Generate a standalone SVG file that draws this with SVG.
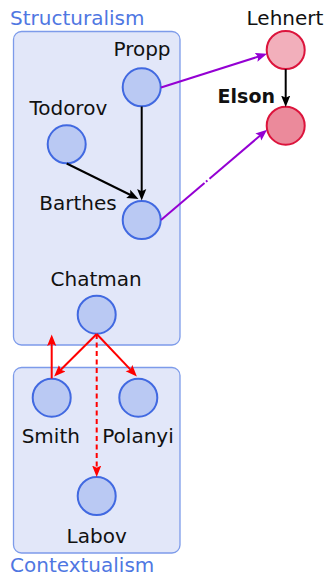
<svg xmlns="http://www.w3.org/2000/svg" width="326" height="578" viewBox="0 0 326 578">
  <style>
    .group { fill: #E2E7F9; stroke: #7D9BEA; stroke-width: 1.3; }
    .title { font-family: "DejaVu Sans", "Liberation Sans", sans-serif; font-size: 20px; fill: #4F77E2; }
    .lbl { font-family: "DejaVu Sans", "Liberation Sans", sans-serif; font-size: 20px; fill: #111; text-anchor: middle; }
    .theory { fill: #BAC9F3; stroke: #4169E1; stroke-width: 2; }
    .study1 { fill: #F2AFBB; stroke: #DC143C; stroke-width: 2; }
    .study2 { fill: #EB8A9B; stroke: #DC143C; stroke-width: 2; }
    .edge { fill: none; stroke-width: 2; }
    .k { stroke: #000; }
    .p { stroke: #9400D3; }
    .r { stroke: #FF0000; }
  </style>
  <defs>
    <marker id="ak" viewBox="0 -5 12 10" refX="6" refY="0" markerWidth="12" markerHeight="10" markerUnits="userSpaceOnUse" orient="auto">
      <path d="M0,-4.6 L11.5,0 L0,4.6 L2.2,0 z" fill="#000"/>
    </marker>
    <marker id="ap" viewBox="0 -5 12 10" refX="6" refY="0" markerWidth="12" markerHeight="10" markerUnits="userSpaceOnUse" orient="auto">
      <path d="M0,-4.6 L11.5,0 L0,4.6 L2.2,0 z" fill="#9400D3"/>
    </marker>
    <marker id="ar" viewBox="0 -5 12 10" refX="6" refY="0" markerWidth="12" markerHeight="10" markerUnits="userSpaceOnUse" orient="auto">
      <path d="M0,-4.6 L11.5,0 L0,4.6 L2.2,0 z" fill="#FF0000"/>
    </marker>
  </defs>

  <!-- school groupings -->
  <g id="structuralism">
    <rect class="group" x="13.5" y="31.5" width="166.5" height="313.5" rx="8"/>
    <text class="title" x="10" y="25">Structuralism</text>
  </g>
  <g id="contextualism">
    <rect class="group" x="13.5" y="367.5" width="166.5" height="185.5" rx="8"/>
    <text class="title" x="10" y="572">Contextualism</text>
  </g>

  <!-- theorists -->
  <g id="propp">
    <circle class="theory" cx="141.7" cy="87.3" r="19"/>
    <text class="lbl" x="142" y="56">Propp</text>
  </g>
  <g id="todorov">
    <circle class="theory" cx="66.7" cy="144.3" r="19"/>
    <text class="lbl" x="68.3" y="115">Todorov</text>
  </g>
  <g id="barthes">
    <circle class="theory" cx="141.7" cy="220" r="19"/>
    <text class="lbl" x="78" y="210">Barthes</text>
  </g>
  <g id="chatman">
    <circle class="theory" cx="96.7" cy="314.7" r="19"/>
    <text class="lbl" x="96.2" y="286">Chatman</text>
  </g>
  <g id="smith">
    <circle class="theory" cx="51.7" cy="397.7" r="19"/>
    <text class="lbl" x="50.8" y="443">Smith</text>
  </g>
  <g id="polanyi">
    <circle class="theory" cx="138.3" cy="397.7" r="19"/>
    <text class="lbl" x="138" y="443">Polanyi</text>
  </g>
  <g id="labov">
    <circle class="theory" cx="96.7" cy="496" r="19"/>
    <text class="lbl" x="96.7" y="542.5">Labov</text>
  </g>
  <g id="lehnert">
    <circle class="study1" cx="285.7" cy="50" r="19"/>
    <text class="lbl" x="285" y="25">Lehnert</text>
  </g>
  <g id="elson">
    <circle class="study2" cx="285.7" cy="125.7" r="19"/>
    <text class="lbl" x="275" y="103" style="text-anchor:end;font-weight:bold;font-size:19px">Elson</text>
  </g>

  <!-- influence connectors -->
  <g id="connectors">
    <line class="edge k" x1="141.7" y1="106.5" x2="141.7" y2="195" marker-end="url(#ak)"/>
    <line class="edge k" x1="66.7" y1="163.5" x2="133.6" y2="196.5" marker-end="url(#ak)"/>
    <line class="edge k" x1="285.7" y1="69.2" x2="285.7" y2="101.5" marker-end="url(#ak)"/>
    <line class="edge p" x1="161" y1="87.5" x2="261.8" y2="55.5" marker-end="url(#ap)"/>
    <line class="edge p" x1="161" y1="220" x2="204.5" y2="183"/>
    <line class="edge p" x1="206" y1="181.7" x2="207.4" y2="180.5"/>
    <line class="edge p" x1="209.5" y1="178.7" x2="262.9" y2="133.2" marker-end="url(#ap)"/>
    <line class="edge r" x1="96.7" y1="334" x2="58" y2="372.5" marker-end="url(#ar)"/>
    <line class="edge r" x1="96.7" y1="334" x2="133.1" y2="372.4" marker-end="url(#ar)"/>
    <line class="edge r" x1="96.7" y1="334" x2="96.7" y2="471.5" stroke-dasharray="5 3.5" marker-end="url(#ar)"/>
    <line class="edge r" x1="51.7" y1="378.5" x2="51.7" y2="340" marker-end="url(#ar)"/>
  </g>
</svg>
